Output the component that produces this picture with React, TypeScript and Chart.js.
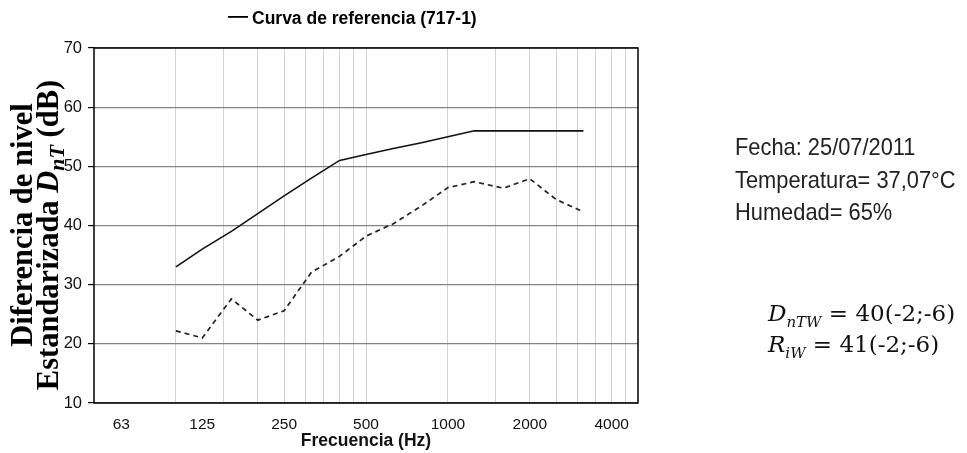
import React, { useEffect, useRef } from "react";
import { Chart, registerables } from "chart.js";

Chart.register(...registerables);

// ---- data ----
const frequencies = [100, 125, 160, 200, 250, 315, 400, 500, 630, 800, 1000, 1250, 1600, 2000, 2500, 3150];
const referenceCurve = [33, 36, 39, 42, 45, 48, 51, 52, 53, 54, 55, 56, 56, 56, 56, 56];
const measuredCurve = [22.2, 21.0, 27.6, 24.0, 25.6, 32.1, 34.8, 38.2, 40.3, 43.3, 46.4, 47.4, 46.3, 47.9, 44.4, 42.3];
const xTickLabels = [63, 125, 250, 500, 1000, 2000, 4000];
const xGridValues = [100, 150, 200, 250, 300, 350, 400, 450, 500, 1000, 1500, 2000, 2500, 3000, 3500, 4000, 4500];
const yMin = 10;
const yMax = 70;
const yStep = 10;
const xMin = 50;
const xMax = 5000;
const legendLabel = "Curva de referencia (717-1)";
const xTitle = "Frecuencia (Hz)";
const yTitleLine1 = "Diferencia de nivel";
const yTitleLine2 = ["Estandarizada ", "D", "nT", " (dB)"];
const infoLines = ["Fecha: 25/07/2011", "Temperatura= 37,07°C", "Humedad= 65%"];

const W = 967;
const H = 453;

const labelSet = new Set(xTickLabels);
const gridSet = new Set(xGridValues);

const extrasPlugin = {
  id: "extras",
  afterDraw(chart: any) {
    const { ctx, chartArea } = chart;
    ctx.save();
    // plot border
    ctx.strokeStyle = "#000";
    ctx.lineWidth = 1.5;
    ctx.strokeRect(chartArea.left, chartArea.top, chartArea.right - chartArea.left, chartArea.bottom - chartArea.top);

    // legend
    ctx.fillStyle = "#000";
    ctx.fillRect(228, 16, 20, 1.8);
    ctx.font = 'bold 17.5px "Liberation Sans", Arial, sans-serif';
    ctx.textAlign = "left";
    ctx.textBaseline = "alphabetic";
    ctx.fillText(legendLabel, 252, 23.5);

    // y title line 1
    ctx.save();
    ctx.translate(32, 225);
    ctx.rotate(-Math.PI / 2);
    ctx.font = 'bold 30.5px "Liberation Serif", serif';
    ctx.textAlign = "center";
    ctx.fillText(yTitleLine1, 0, 0);
    ctx.restore();

    // y title line 2 (with italic D and subscript nT)
    const pieces = [
      { t: yTitleLine2[0], f: 'bold 30.5px "Liberation Serif", serif', dy: 0 },
      { t: yTitleLine2[1], f: 'italic bold 30.5px "Liberation Serif", serif', dy: 0 },
      { t: yTitleLine2[2], f: 'italic bold 22px "Liberation Serif", serif', dy: 6 },
      { t: yTitleLine2[3], f: 'bold 30.5px "Liberation Serif", serif', dy: 0 },
    ];
    ctx.save();
    ctx.translate(58, 235);
    ctx.rotate(-Math.PI / 2);
    ctx.textAlign = "left";
    let total = 0;
    const widths = pieces.map((p) => {
      ctx.font = p.f;
      const w = ctx.measureText(p.t).width;
      total += w;
      return w;
    });
    let x = -total / 2;
    pieces.forEach((p, i) => {
      ctx.font = p.f;
      ctx.fillText(p.t, x, p.dy);
      x += widths[i];
    });
    ctx.restore();
    ctx.restore();
  },
};

export default function App() {
  const ref = useRef<HTMLCanvasElement | null>(null);

  useEffect(() => {
    if (!ref.current) return;
    const chart = new Chart(ref.current, {
      type: "line",
      data: {
        datasets: [
          {
            label: legendLabel,
            data: frequencies.map((f, i) => ({ x: f, y: referenceCurve[i] })),
            borderColor: "#111",
            borderWidth: 1.6,
            pointRadius: 0,
            tension: 0,
            fill: false,
          },
          {
            label: "Medida",
            data: frequencies.map((f, i) => ({ x: f, y: measuredCurve[i] })),
            borderColor: "#222",
            borderWidth: 1.7,
            borderDash: [5, 4],
            pointRadius: 0,
            tension: 0,
            fill: false,
          },
        ],
      },
      options: {
        animation: false,
        responsive: false,
        devicePixelRatio: 1,
        layout: { padding: { left: 0, right: W - 638, top: 48, bottom: 0 } },
        plugins: {
          legend: { display: false },
          title: { display: false },
          tooltip: { enabled: false },
        },
        scales: {
          x: {
            type: "logarithmic",
            min: xMin,
            max: xMax,
            afterBuildTicks: (scale: any) => {
              const vals = Array.from(new Set([...xGridValues, ...xTickLabels])).sort((a, b) => a - b);
              scale.ticks = vals.map((v) => ({ value: v }));
            },
            afterFit: (scale: any) => {
              scale.height = H - 403;
            },
            ticks: {
              autoSkip: false,
              maxRotation: 0,
              minRotation: 0,
              padding: 12,
              color: "#111",
              font: { family: '"Liberation Sans", Arial, sans-serif', size: 15.5 },
              callback: (v: any) => (labelSet.has(Number(v)) ? String(v) : ""),
            },
            grid: {
              drawTicks: false,
              lineWidth: 1,
              color: (ctx: any) => (ctx.tick && gridSet.has(ctx.tick.value) ? "#d2d2d2" : "rgba(0,0,0,0)"),
            },
            border: { display: false },
            title: {
              display: true,
              text: xTitle,
              color: "#111",
              font: { family: '"Liberation Sans", Arial, sans-serif', size: 17.5, weight: "bold" },
              padding: { top: 0, bottom: 1 },
            },
          },
          y: {
            type: "linear",
            min: yMin,
            max: yMax,
            afterFit: (scale: any) => {
              scale.width = 94;
            },
            ticks: {
              stepSize: yStep,
              padding: 6,
              color: "#111",
              font: { family: '"Liberation Sans", Arial, sans-serif', size: 16.5 },
            },
            grid: {
              color: "#858585",
              lineWidth: 1.2,
              drawTicks: true,
              tickLength: 6,
              tickColor: "#000",
            },
            border: { display: false },
          },
        },
      },
      plugins: [extrasPlugin],
    });
    return () => chart.destroy();
  }, []);

  const sansText: React.CSSProperties = {
    position: "absolute",
    left: 735,
    fontFamily: '"Liberation Sans", Arial, sans-serif',
    fontSize: 24,
    lineHeight: "24px",
    color: "#222",
    whiteSpace: "nowrap",
    transform: "scaleX(0.91)",
    transformOrigin: "left center",
  };
  const serifText: React.CSSProperties = {
    position: "absolute",
    left: 768,
    fontFamily: '"DejaVu Serif", serif',
    fontSize: 23,
    lineHeight: "23px",
    color: "#111",
    whiteSpace: "nowrap",
  };
  const subStyle: React.CSSProperties = { fontSize: 15, position: "relative", top: 6, fontStyle: "italic" };

  return (
    <div style={{ position: "absolute", left: 0, top: 0, width: W, height: H, background: "#fff", overflow: "hidden" }}>
      <canvas ref={ref} width={W} height={H} style={{ position: "absolute", left: 0, top: 0, width: W, height: H }} />
      <div style={{ ...sansText, top: 134.7 }}>{infoLines[0]}</div>
      <div style={{ ...sansText, top: 167.7 }}>{infoLines[1]}</div>
      <div style={{ ...sansText, top: 199.7 }}>{infoLines[2]}</div>
      <div style={{ ...serifText, top: 302 }}>
        <i>D</i>
        <span style={subStyle}>nTW</span> = 40(-2;-6)
      </div>
      <div style={{ ...serifText, top: 333 }}>
        <i>R</i>
        <span style={subStyle}>iW</span> = 41(-2;-6)
      </div>
    </div>
  );
}
